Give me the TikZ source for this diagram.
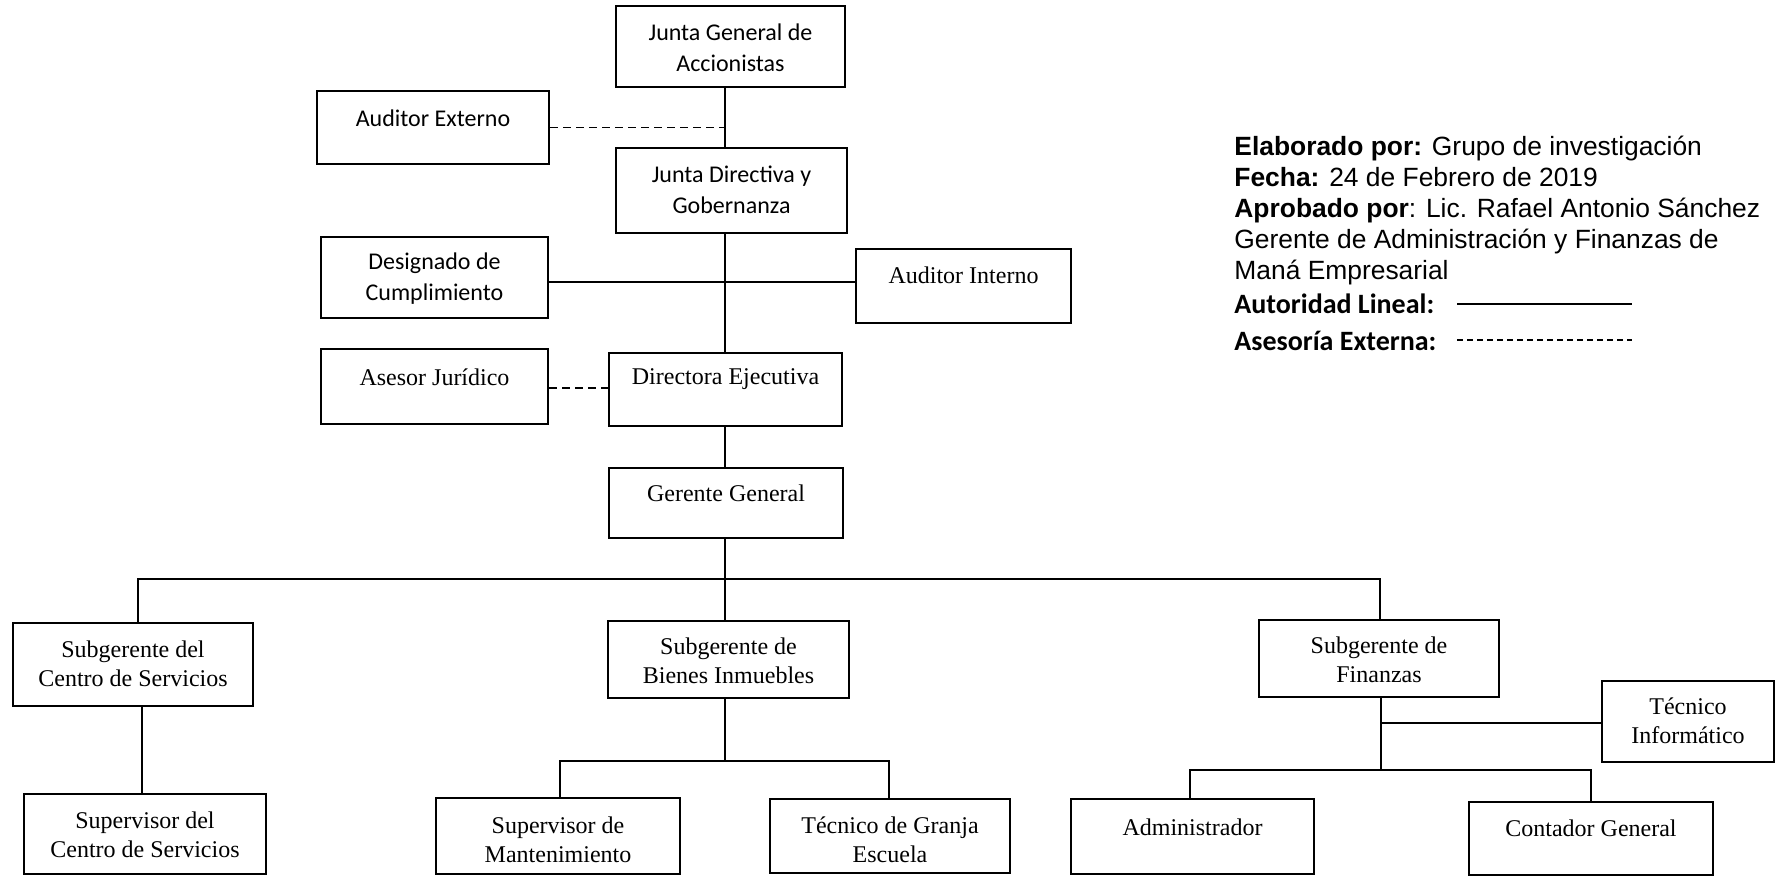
\documentclass[tikz,border=0pt]{standalone}
\usepackage{fontspec}
\setmainfont{Liberation Serif}
\newfontfamily\calfont{Carlito}
\newfontfamily\arialfont{Liberation Sans}
\usetikzlibrary{fit,calc}
\begin{document}
\begin{tikzpicture}[x=0.5pt,y=-0.5pt,
 box/.style={draw, line width=1.35pt, inner sep=0pt},
 tc/.style={font=\calfont\fontsize{12}{15.5}\selectfont, align=center, inner sep=0pt},
 tt/.style={font=\fontsize{12}{14.5}\selectfont, align=center, inner sep=0pt},
 link/.style={line width=0.9pt},
 thinlink/.style={line width=0.6pt},
 adv/.style={line width=0.7pt, dash pattern=on 3.8pt off 2.7pt},
 lg/.style={font=\arialfont\fontsize{13.2}{13.2}\selectfont, anchor=base west, inner sep=0pt},
 lgc/.style={font=\calfont\bfseries\fontsize{14}{14}\selectfont, anchor=base west, inner sep=0pt}]
\useasboundingbox (0,0) rectangle (1778,876);

% boxes
\node[box, fit={(616,6) (845,87)}] (jg) {};
\node[box, fit={(317,91) (549,164)}] (ae) {};
\node[box, fit={(616,148) (847,233)}] (jd) {};
\node[box, fit={(321,237) (548,318)}] (dc) {};
\node[box, fit={(856,249) (1071,323)}] (ai) {};
\node[box, fit={(321,349) (548,424)}] (aj) {};
\node[box, fit={(609,353) (842,426)}] (de) {};
\node[box, fit={(609,468) (843,538)}] (gg) {};
\node[box, fit={(13,623) (253,706)}] (sc) {};
\node[box, fit={(608,621) (849,698)}] (sb) {};
\node[box, fit={(1259,620) (1499,697)}] (sf) {};
\node[box, fit={(1602,681) (1774,762)}] (ti) {};
\node[box, fit={(24,794) (266,874)}] (pc) {};
\node[box, fit={(436,798) (680,874)}] (sm) {};
\node[box, fit={(770,799) (1010,873)}] (tg) {};
\node[box, fit={(1071,799) (1314,874)}] (ad) {};
\node[box, fit={(1469,802) (1713,875)}] (cg) {};

% texts
\node[tc] (jgt) at (jg.center |- 0,48) {Junta General de\\Accionistas};
\node[tc] (aet) at (ae.center |- 0,118) {Auditor Externo};
\node[tc] (jdt) at (jd.center |- 0,190) {Junta Directiva y\\Gobernanza};
\node[tc] (dct) at (dc.center |- 0,279) {Designado de\\Cumplimiento};
\node[tt] (ait) at (ai.center |- 0,275) {Auditor Interno};
\node[tt] (ajt) at (aj.center |- 0,377) {Asesor Jurídico};
\node[tt] (det) at (de.center |- 0,379) {Directora Ejecutiva};
\node[tt] (ggt) at (gg.center |- 0,493) {Gerente General};
\node[tt] (sct) at (sc.center |- 0,664) {Subgerente del\\Centro de Servicios};
\node[tt] (sbt) at (sb.center |- 0,661) {Subgerente de\\Bienes Inmuebles};
\node[tt] (sft) at (sf.center |- 0,660) {Subgerente de\\Finanzas};
\node[tt] (tit) at (ti.center |- 0,721) {Técnico\\Informático};
\node[tt] (pct) at (pc.center |- 0,835) {Supervisor del\\Centro de Servicios};
\node[tt] (smt) at (sm.center |- 0,840) {Supervisor de\\Mantenimiento};
\node[tt] (tgt) at (tg.center |- 0,840) {Técnico de Granja\\Escuela};
\node[tt] (adt) at (ad.center |- 0,827) {Administrador};
\node[tt] (cgt) at (cg.center |- 0,828) {Contador General};

% connectors
\coordinate (sp) at (725,0);
\draw[thinlink] (jg.south -| sp) -- (jd.north -| sp);
\draw[adv] (ae.east) -- (ae.east -| sp);
\draw[link] (jd.south -| sp) -- (de.north -| sp);
\coordinate (h1) at (0,282);
\draw[link] (dc.east |- h1) -- (ai.west |- h1);
\coordinate (h2) at (0,388);
\draw[adv] (aj.east |- h2) -- (de.west |- h2);
\draw[link] (de.south -| sp) -- (gg.north -| sp);
\coordinate (bL) at (138,579);
\coordinate (bR) at (1380,579);
\draw[link] (gg.south -| sp) -- (sp |- bL);
\draw[link] (bL |- sc.north) -- (bL) -- (bR) -- (bR |- sf.north);
\draw[link] (sp |- bL) -- (sb.north -| sp);
\coordinate (v1) at (142,0);
\draw[link] (sc.south -| v1) -- (pc.north -| v1);
\coordinate (b2L) at (560,761);
\coordinate (b2R) at (889,761);
\draw[link] (sb.south -| sp) -- (sp |- b2L);
\draw[link] (sm.north -| b2L) -- (b2L) -- (b2R) -- (tg.north -| b2R);
\coordinate (fx) at (1381,723);
\coordinate (b3L) at (1190,770);
\coordinate (b3R) at (1591,770);
\draw[link] (sf.south -| fx) -- (fx |- b3L);
\draw[link] (fx) -- (ti.west |- fx);
\draw[link] (ad.north -| b3L) -- (b3L) -- (b3R) -- (cg.north -| b3R);

% legend
\node[lg] (l1) at (1234,156) {\textbf{Elaborado por:} Grupo de investigación};
\node[lg] (l2) at (1234,187) {\textbf{Fecha:} 24 de Febrero de 2019};
\node[lg] (l3) at (1234,218) {\textbf{Aprobado por}: Lic. Rafael Antonio Sánchez};
\node[lg] (l4) at (1234,249) {Gerente de Administración y Finanzas de};
\node[lg] (l5) at (1234,280) {Maná Empresarial};
\node[lgc] (l6) at (1234,314) {Autoridad Lineal:};
\node[lgc] (l7) at (1234,351) {Asesoría Externa:};
\coordinate (s1a) at (1457,304);
\coordinate (s1b) at (1632,304);
\draw[line width=0.7pt] (s1a) -- (s1b);
\coordinate (s2a) at (1457,340);
\coordinate (s2b) at (1632,340);
\draw[line width=0.6pt, dash pattern=on 2.75pt off 2.25pt] (s2a) -- (s2b);
\end{tikzpicture}
\end{document}
